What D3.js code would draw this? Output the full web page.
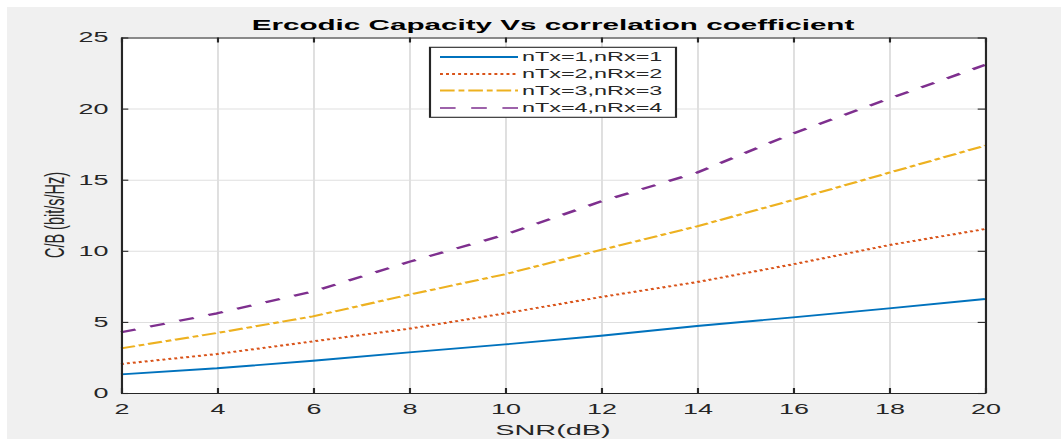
<!DOCTYPE html>
<html><head><meta charset="utf-8">
<script src="https://cdn.jsdelivr.net/npm/d3@7"></script>
<style>html,body{margin:0;padding:0;background:#fff;overflow:hidden}</style>
</head><body>
<script>
// ---- data ----
const snr   = [2, 4, 6, 8, 10, 12, 14, 16, 18, 20];
const cap11 = [1.31, 1.74, 2.27, 2.86, 3.42, 4.03, 4.71, 5.32, 5.95, 6.61];
const cap22 = [2.04, 2.74, 3.63, 4.52, 5.60, 6.75, 7.80, 9.05, 10.40, 11.53];
const cap33 = [3.14, 4.22, 5.39, 6.91, 8.35, 10.06, 11.72, 13.57, 15.49, 17.39];
const cap44 = [4.27, 5.60, 7.14, 9.22, 11.13, 13.47, 15.50, 18.25, 20.70, 23.07];
const seriesNames = ["nTx=1,nRx=1", "nTx=2,nRx=2", "nTx=3,nRx=3", "nTx=4,nRx=4"];
const xTicks = [2, 4, 6, 8, 10, 12, 14, 16, 18, 20];
const yTicks = [0, 5, 10, 15, 20, 25];
const titleText = "Ercodic Capacity Vs correlation coefficient";
const xLabel = "SNR(dB)";
const yLabel = "C/B (bit/s/Hz)";

// ---- styles ----
const colors = ["#0072BD", "#D95319", "#EDB120", "#7E2F8E"];
const dashes = [null, "1.5,1.6", "7.5,2,3,2", "8,8"];
const widths = [1.9, 2.0, 2.0, 2.2];

const W = 1061, H = 439, SX = 1.95, VW = W / SX;
const svg = d3.select("body").append("svg")
  .attr("width", W).attr("height", H)
  .attr("viewBox", `0 0 ${VW} ${H}`)
  .attr("preserveAspectRatio", "none")
  .style("display", "block");

svg.append("rect").attr("width", VW).attr("height", H).attr("fill", "#ffffff");
svg.append("rect").attr("x", 7 / SX).attr("y", 7).attr("width", VW).attr("height", H).attr("fill", "#f0f0f0");

const L = 121 / SX, R = 985 / SX, T = 37.5, B = 393;
const x = d3.scaleLinear().domain([2, 20]).range([L, R]);
const y = d3.scaleLinear().domain([0, 25]).range([B, T]);

svg.append("rect").attr("x", L).attr("y", T).attr("width", R - L).attr("height", B - T).attr("fill", "#fff");

const font = "'Liberation Sans', Arial, Helvetica, sans-serif";
const ink = "#262626";

// grid
const gx = svg.append("g").attr("transform", `translate(0,${B})`)
  .call(d3.axisBottom(x).tickValues(xTicks).tickSize(-(B - T)).tickFormat(""));
gx.select(".domain").remove();
gx.selectAll("line").attr("stroke", "#dfdfdf").attr("stroke-width", 1);
const gy = svg.append("g").attr("transform", `translate(${L},0)`)
  .call(d3.axisLeft(y).tickValues(yTicks).tickSize(-(R - L)).tickFormat(""));
gy.select(".domain").remove();
gy.selectAll("line").attr("stroke", "#dfdfdf").attr("stroke-width", 1);

// series
const all = [cap11, cap22, cap33, cap44];
const line = d3.line().x((d, i) => x(snr[i])).y(d => y(d));
all.forEach((vals, k) => {
  svg.append("path").datum(vals).attr("d", line)
    .attr("fill", "none").attr("stroke", colors[k]).attr("stroke-width", widths[k])
    .attr("stroke-dasharray", dashes[k]).attr("stroke-linejoin", "round");
});

// axes (box with inward ticks)
function styleAxis(g) {
  g.select(".domain").attr("stroke", ink).attr("stroke-width", 1.1);
  g.selectAll(".tick line").attr("stroke", ink).attr("stroke-width", 1.1);
  g.selectAll("text").attr("fill", ink).style("font-family", font).style("font-size", "13.8px");
}
const ax = svg.append("g").attr("transform", `translate(0,${B})`)
  .call(d3.axisBottom(x).tickValues(xTicks).tickSizeInner(-5).tickSizeOuter(0).tickPadding(11));
styleAxis(ax);
const axT = svg.append("g").attr("transform", `translate(0,${T})`)
  .call(d3.axisTop(x).tickValues(xTicks).tickSizeInner(-5).tickSizeOuter(0).tickFormat(""));
styleAxis(axT);
const ay = svg.append("g").attr("transform", `translate(${L},0)`)
  .call(d3.axisLeft(y).tickValues(yTicks).tickSizeInner(-3.75).tickSizeOuter(0).tickPadding(6.4));
styleAxis(ay);
const ayR = svg.append("g").attr("transform", `translate(${R},0)`)
  .call(d3.axisRight(y).tickValues(yTicks).tickSizeInner(-3.75).tickSizeOuter(0).tickFormat(""));
styleAxis(ayR);

// title and labels
svg.append("text").attr("x", (L + R) / 2).attr("y", 30.5).attr("text-anchor", "middle")
  .style("font-family", font).style("font-size", "15.2px").style("font-weight", "bold")
  .attr("fill", "#000").text(titleText);
svg.append("text").attr("x", 553 / SX).attr("y", 435).attr("text-anchor", "middle")
  .style("font-family", font).style("font-size", "14.8px").attr("fill", ink).text(xLabel);
svg.append("text").attr("transform", `translate(${32.9},215) rotate(-90)`).attr("text-anchor", "middle")
  .style("font-family", font).style("font-size", "14.5px").attr("fill", ink).text(yLabel);

// legend
const lg = svg.append("g");
lg.append("rect").attr("x", 430 / SX).attr("y", 47.3).attr("width", (676 - 430) / SX).attr("height", 70)
  .attr("fill", "#fff").attr("stroke", ink).attr("stroke-width", 1.1);
const rowY = [57, 74, 90.5, 108];
seriesNames.forEach((name, k) => {
  lg.append("line").attr("x1", 440 / SX).attr("x2", 518 / SX).attr("y1", rowY[k]).attr("y2", rowY[k])
    .attr("stroke", colors[k]).attr("stroke-width", k === 3 ? 1.3 : widths[k]).attr("stroke-dasharray", dashes[k]);
  lg.append("text").attr("x", 522 / SX).attr("y", rowY[k]).attr("dy", "0.36em")
    .style("font-family", font).style("font-size", "12px").attr("fill", ink).text(name);
});
</script>
</body></html>
